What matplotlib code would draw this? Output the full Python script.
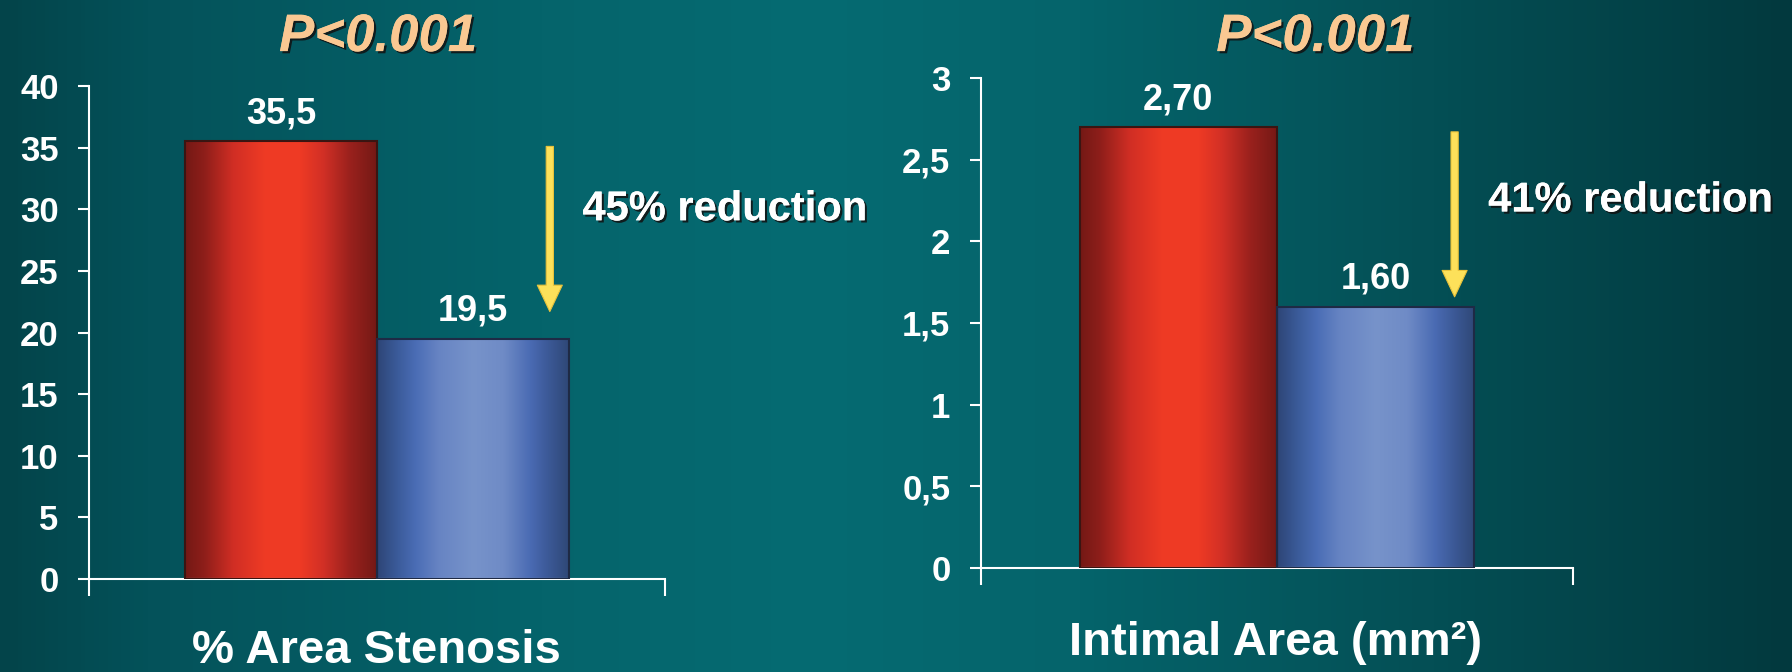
import numpy as np
import matplotlib
matplotlib.use("Agg")
import matplotlib.pyplot as plt
import matplotlib.patheffects as pe
from matplotlib.colors import LinearSegmentedColormap

plt.rcParams['font.family'] = ['Liberation Sans', 'DejaVu Sans']
plt.rcParams['font.weight'] = 'bold'

# data
panel_titles = ["P<0.001", "P<0.001"]
panel_xlabels = ["% Area Stenosis", "Intimal Area (mm²)"]
control_values = [35.5, 2.70]
treated_values = [19.5, 1.60]
value_labels = [["35,5", "19,5"], ["2,70", "1,60"]]
reduction_labels = ["45% reduction", "41% reduction"]
y_limits = [40, 3]
y_ticks = [[0, 5, 10, 15, 20, 25, 30, 35, 40],
           [0, 0.5, 1, 1.5, 2, 2.5, 3]]
y_ticklabels = [["0", "5", "10", "15", "20", "25", "30", "35", "40"],
                ["0", "0,5", "1", "1,5", "2", "2,5", "3"]]
arrow_gap = [0.055, 0.02]  # gap above the blue bar, as axis fraction

W, H = 1792, 672
fig = plt.figure(figsize=(W / 100, H / 100), dpi=100)

# teal background gradient
bg = fig.add_axes([0, 0, 1, 1])
bg_cmap = LinearSegmentedColormap.from_list("bg", [
    (0.0, "#03444A"), (0.08, "#04525A"), (0.3, "#05646B"), (0.45, "#066B72"),
    (0.6, "#05646B"), (0.8, "#044F55"), (1.0, "#02393E")])
bg.imshow(np.linspace(0, 1, 400)[None, :], cmap=bg_cmap, aspect="auto",
          extent=[0, 1, 0, 1])
bg.set_axis_off()

red_cmap = LinearSegmentedColormap.from_list("red", [
    (0.0, "#741915"), (0.1, "#8E1E1A"), (0.25, "#D02E24"), (0.42, "#EF3B25"),
    (0.6, "#EE3A24"), (0.72, "#D23026"), (0.86, "#9A211D"), (1.0, "#741915")])
blue_cmap = LinearSegmentedColormap.from_list("blue", [
    (0.0, "#2E4576"), (0.1, "#3A5A98"), (0.2, "#4A6DB5"), (0.32, "#6784C3"),
    (0.5, "#7793CA"), (0.66, "#6F8BC6"), (0.8, "#4A6BB3"), (0.9, "#3B5895"),
    (1.0, "#2F4877")])

shadow = [pe.withSimplePatchShadow(offset=(1.6, -1.6), shadow_rgbFace="#111111",
                                   alpha=0.85), pe.Normal()]

axes_rects = [[0.0497, 0.1384, 0.3214, 0.7336],
              [0.5474, 0.1548, 0.3304, 0.7292]]
title_x = [0.211, 0.734]
xlabel_pos = [(0.210, 0.013), (0.712, 0.025)]

for i in range(2):
    ax = fig.add_axes(axes_rects[i])
    ax.patch.set_alpha(0)
    vals = [control_values[i], treated_values[i]]
    bars = ax.bar([0, 1], vals, width=1.0, color="none",
                  edgecolor=["#3A1512", "#1E2A45"], linewidth=1.5, zorder=3)
    for bar, cm in zip(bars, [red_cmap, blue_cmap]):
        x0, y0 = bar.get_x(), bar.get_y()
        im = ax.imshow(np.linspace(0, 1, 256)[None, :], cmap=cm, aspect="auto",
                       extent=[x0, x0 + bar.get_width(), y0, y0 + bar.get_height()],
                       zorder=2)
        im.set_clip_path(bar)
    ax.set_xlim(-1, 2)
    ax.set_ylim(0, y_limits[i])

    for spine in ["top", "right"]:
        ax.spines[spine].set_visible(False)
    for spine in ["left", "bottom"]:
        ax.spines[spine].set_color("white")
        ax.spines[spine].set_linewidth(1.5)
    ax.set_xticks([-1, 2])
    ax.set_xticklabels([])
    ax.tick_params(axis="x", colors="white", length=12, width=1.5, direction="out")
    ax.set_yticks(y_ticks[i])
    ax.set_yticklabels(y_ticklabels[i])
    ax.tick_params(axis="y", colors="white", length=8, width=1.5, pad=14,
                   labelsize=25)
    for lab in ax.get_yticklabels():
        lab.set_fontweight("bold")

    for xpos, v, txt in zip([0, 1], vals, value_labels[i]):
        ax.annotate(txt, (xpos, v), xytext=(0, 7), textcoords="offset points",
                    ha="center", va="bottom", color="white", fontsize=26,
                    fontweight="bold")

    ax.annotate("", xy=(1.4, treated_values[i] + arrow_gap[i] * y_limits[i]),
                xytext=(1.4, control_values[i] - 0.01 * y_limits[i]),
                arrowprops=dict(arrowstyle="simple,head_length=0.95,head_width=0.9,tail_width=0.26",
                                mutation_scale=20, facecolor="#FDE15A",
                                edgecolor="#E9C23A", linewidth=0.8,
                                shrinkA=0, shrinkB=0), zorder=4)
    ax.text(1.57, 0.75, reduction_labels[i], transform=ax.get_xaxis_transform(),
            ha="left", va="center", color="white", fontsize=30,
            fontweight="bold", path_effects=shadow, clip_on=False)

    fig.text(title_x[i], 0.924, panel_titles[i], ha="center", va="baseline",
             color="#FAC892", fontsize=38, fontweight="bold", style="italic",
             path_effects=shadow)
    fig.text(xlabel_pos[i][0], xlabel_pos[i][1], panel_xlabels[i], ha="center",
             va="baseline", color="white", fontsize=34, fontweight="bold")

fig.savefig("out.png", dpi=100)
